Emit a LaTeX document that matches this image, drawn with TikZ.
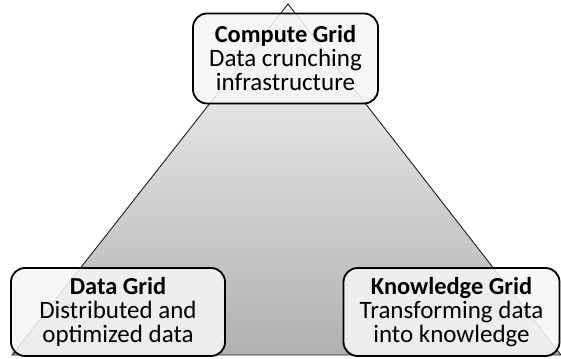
\documentclass[tikz,border=0pt]{standalone}
\usepackage{fontspec}
\setmainfont{Carlito}
\definecolor{tritop}{RGB}{248,248,248}
\definecolor{tribot}{RGB}{176,176,176}
\definecolor{triline}{RGB}{30,30,30}
\definecolor{boxfill}{RGB}{244,246,246}
\newcommand{\gtitle}[1]{{\fontsize{24.4}{24}\selectfont\bfseries #1}}
\begin{document}
\begin{tikzpicture}[x=1pt,y=-1pt,
  gridbox/.style={draw=black,line width=1.8pt,rounded corners=14pt,fill=boxfill,fill opacity=0.88,text opacity=1,
    align=center,inner sep=0pt,font=\fontsize{25}{24}\selectfont},
  tri/.style={draw=triline,line width=0.9pt,top color=tritop,bottom color=tribot}]
\useasboundingbox (0,0) rectangle (561,358);
\coordinate (apex) at (288,4);
\coordinate (bl) at (12,355);
\coordinate (br) at (561,355);
\path[tri] (apex) -- (bl) -- (br) -- cycle;
\node[gridbox,minimum width=185pt,minimum height=90pt] (compute) at (285.5,58.5) {\gtitle{Compute Grid}\\Data crunching\\infrastructure};
\node[gridbox,minimum width=214pt,minimum height=88pt] (data) at (118,312) {\gtitle{Data Grid}\\Distributed and\\optimized data};
\node[gridbox,minimum width=216pt,minimum height=88pt] (know) at (451.5,312) {\gtitle{Knowledge Grid}\\Transforming data\\into knowledge};
\end{tikzpicture}
\end{document}
